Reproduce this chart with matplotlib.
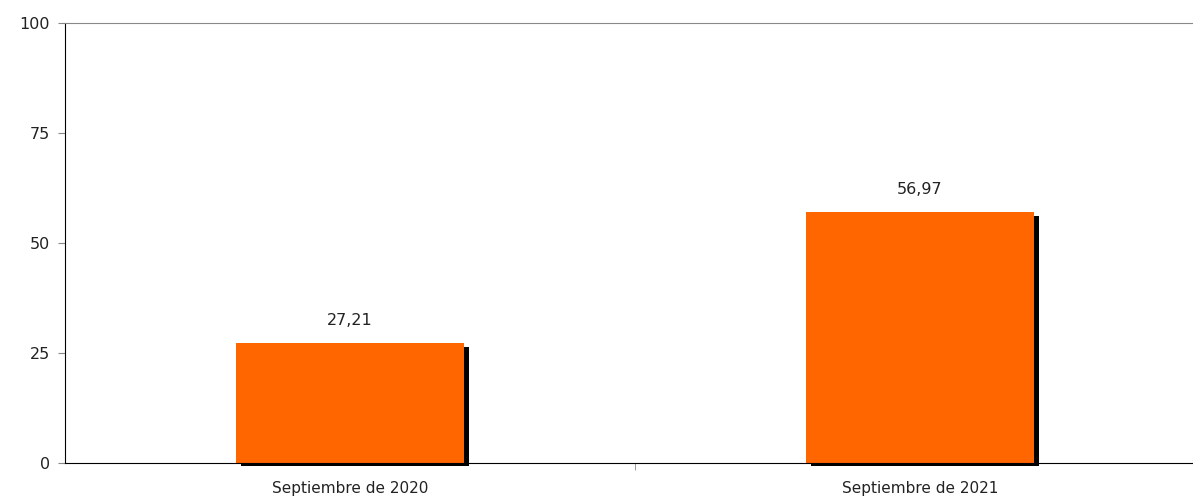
import matplotlib.pyplot as plt
import matplotlib.patheffects as pe

categories = ['Septiembre de 2020', 'Septiembre de 2021']
values = [27.21, 56.97]
labels = ['27,21', '56,97']
yticks = [0, 25, 50, 75, 100]

plt.rcParams['font.family'] = ['DejaVu Sans']

fig = plt.figure(figsize=(11.93, 4.96), dpi=100)
# axes runs past the right edge of the figure, like the original
ax = fig.add_axes([65 / 1193, (496 - 463) / 496, 1140 / 1193, 440 / 496])

x = [0, 1]
bars = ax.bar(x, values, width=0.4, color='#ff6600', zorder=3, clip_on=False,
              path_effects=[pe.SimplePatchShadow(offset=(3.8, -2.4), shadow_rgbFace='black', alpha=1),
                            pe.Normal()])
for xi, v, lab in zip(x, values, labels):
    ax.annotate(lab, (xi, v), xytext=(0, 11), textcoords='offset points',
                ha='center', va='bottom', fontsize=11.5, color='#222222')

ax.set_xlim(-0.5, 1.5)
ax.set_ylim(0, 100)
ax.set_yticks(yticks)
ax.set_yticklabels([str(t) for t in yticks], fontsize=11.5, color='#222222')
ax.tick_params(axis='y', direction='out', length=5, color='#888888', pad=6)

ax.set_xticks(x)
ax.set_xticklabels(categories, fontsize=11, color='#222222')
ax.tick_params(axis='x', length=0, pad=13)
ax.set_xticks([0.5], minor=True)
ax.tick_params(axis='x', which='minor', direction='out', length=5, color='#888888')

ax.spines['left'].set_color('black')
ax.spines['bottom'].set_color('black')
ax.spines['top'].set_color('#888888')
ax.spines['right'].set_visible(False)
ax.spines['bottom'].set_zorder(4)

fig.savefig('out.png', dpi=100)
